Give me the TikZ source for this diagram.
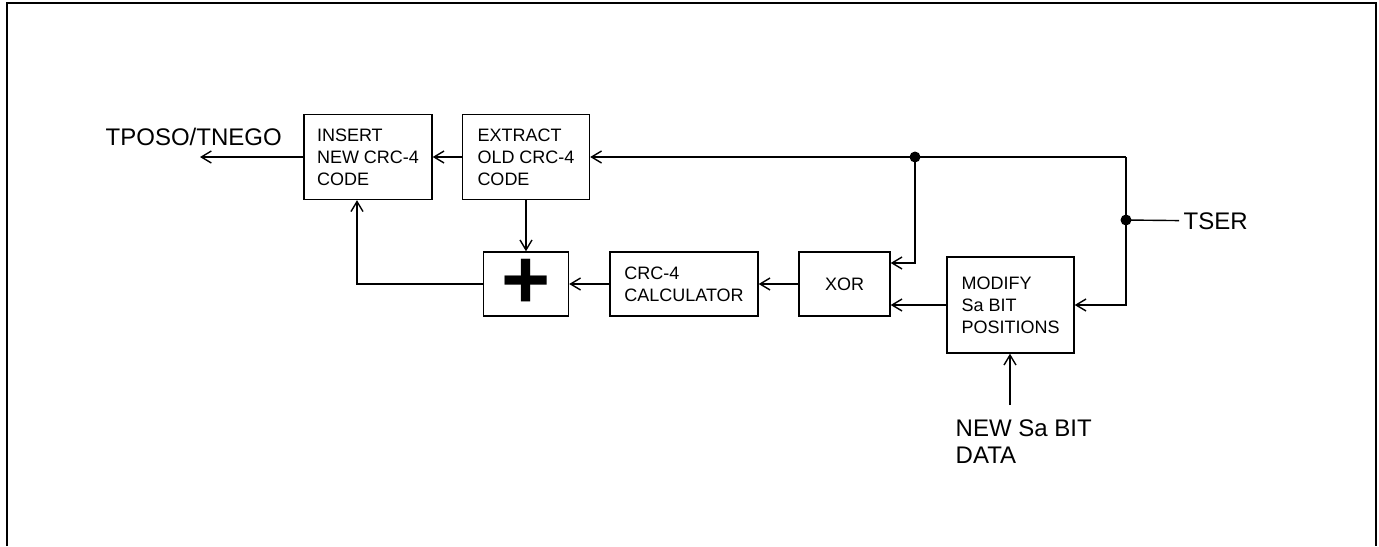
\documentclass[tikz,border=0pt]{standalone}
\usepackage{fontspec}
\setmainfont{Liberation Sans}
\usetikzlibrary{calc,arrows.meta}

\begin{document}
\begin{tikzpicture}[x=0.5pt,y=-0.5pt,line width=0.7pt,
  >={Straight Barb[length=5pt,width=6pt]},
  blk/.style={draw,align=left,inner sep=0pt,font=\fontsize{9}{11}\selectfont},
  lbl/.style={align=left,inner sep=2pt,font=\fontsize{12}{13.5}\selectfont},
  junc/.style={circle,fill,inner sep=0pt,minimum size=5.5pt}]
  \useasboundingbox (0,0) rectangle (1379,546);

  %% Outer frame (open at the bottom)
  \draw[line width=1pt] (7,546) -- (7,3) -- (1376,3) -- (1376,546);

  %% Blocks
  \node[blk,minimum width=64pt,minimum height=42.5pt] (ins) at (368,157) {INSERT\\NEW CRC-4\\CODE};
  \node[blk,minimum width=63.5pt,minimum height=42.5pt] (ext) at (526,157) {EXTRACT\\OLD CRC-4\\CODE};
  \node[blk,minimum width=42.5pt,minimum height=32pt,font=\fontsize{42}{42}\selectfont\bfseries] (sum) at (526,284) {+};
  \node[blk,minimum width=74pt,minimum height=32pt] (crc) at (684,284) {CRC-4\\CALCULATOR};
  \node[blk,minimum width=45.5pt,minimum height=32pt] (xor) at (844.5,284) {XOR};
  \node[blk,minimum width=63.5pt,minimum height=48pt] (mod) at (1010.5,305) {MODIFY\\Sa BIT\\POSITIONS};

  %% Signal names
  \node[lbl,anchor=north west] (tpos) at (101,123) {TPOSO/TNEGO};
  \node[lbl,anchor=west] (tser) at (1179,221) {TSER};
  \node[lbl,anchor=north west] (sadat) at (951,415) {NEW Sa BIT\\DATA};

  %% Branch points
  \coordinate (out) at (200,157);
  \coordinate (split) at (915,157);
  \coordinate (corner) at (1126,157);
  \coordinate (tap) at (1126,220);
  \coordinate (sadsrc) at (1010,405);
  \node[junc] (splitdot) at (split) {};
  \node[junc] (tapdot) at (tap) {};

  %% Connectors
  \draw[->] (corner) -- (ext.east);
  \draw[->] (ext.west) -- (ins.east);
  \draw[->] (ins.west) -- (out);
  \draw[->] (ext.south) -- (sum.north);
  \draw[->] (sum.west) -| ($(ins.south)+(-11,0)$);
  \draw[->] (crc.west) -- (sum.east);
  \draw[->] (xor.west) -- (crc.east);
  \draw[->] (split) |- ($(xor.east)+(0,-21)$);
  \draw[->] (mod.west) -- (mod.west -| xor.east);
  \draw[->] (corner) |- (mod.east);
  \draw (tap) -- (tser);
  \draw[->] (sadsrc) -- (sadsrc |- mod.south);
\end{tikzpicture}
\end{document}
